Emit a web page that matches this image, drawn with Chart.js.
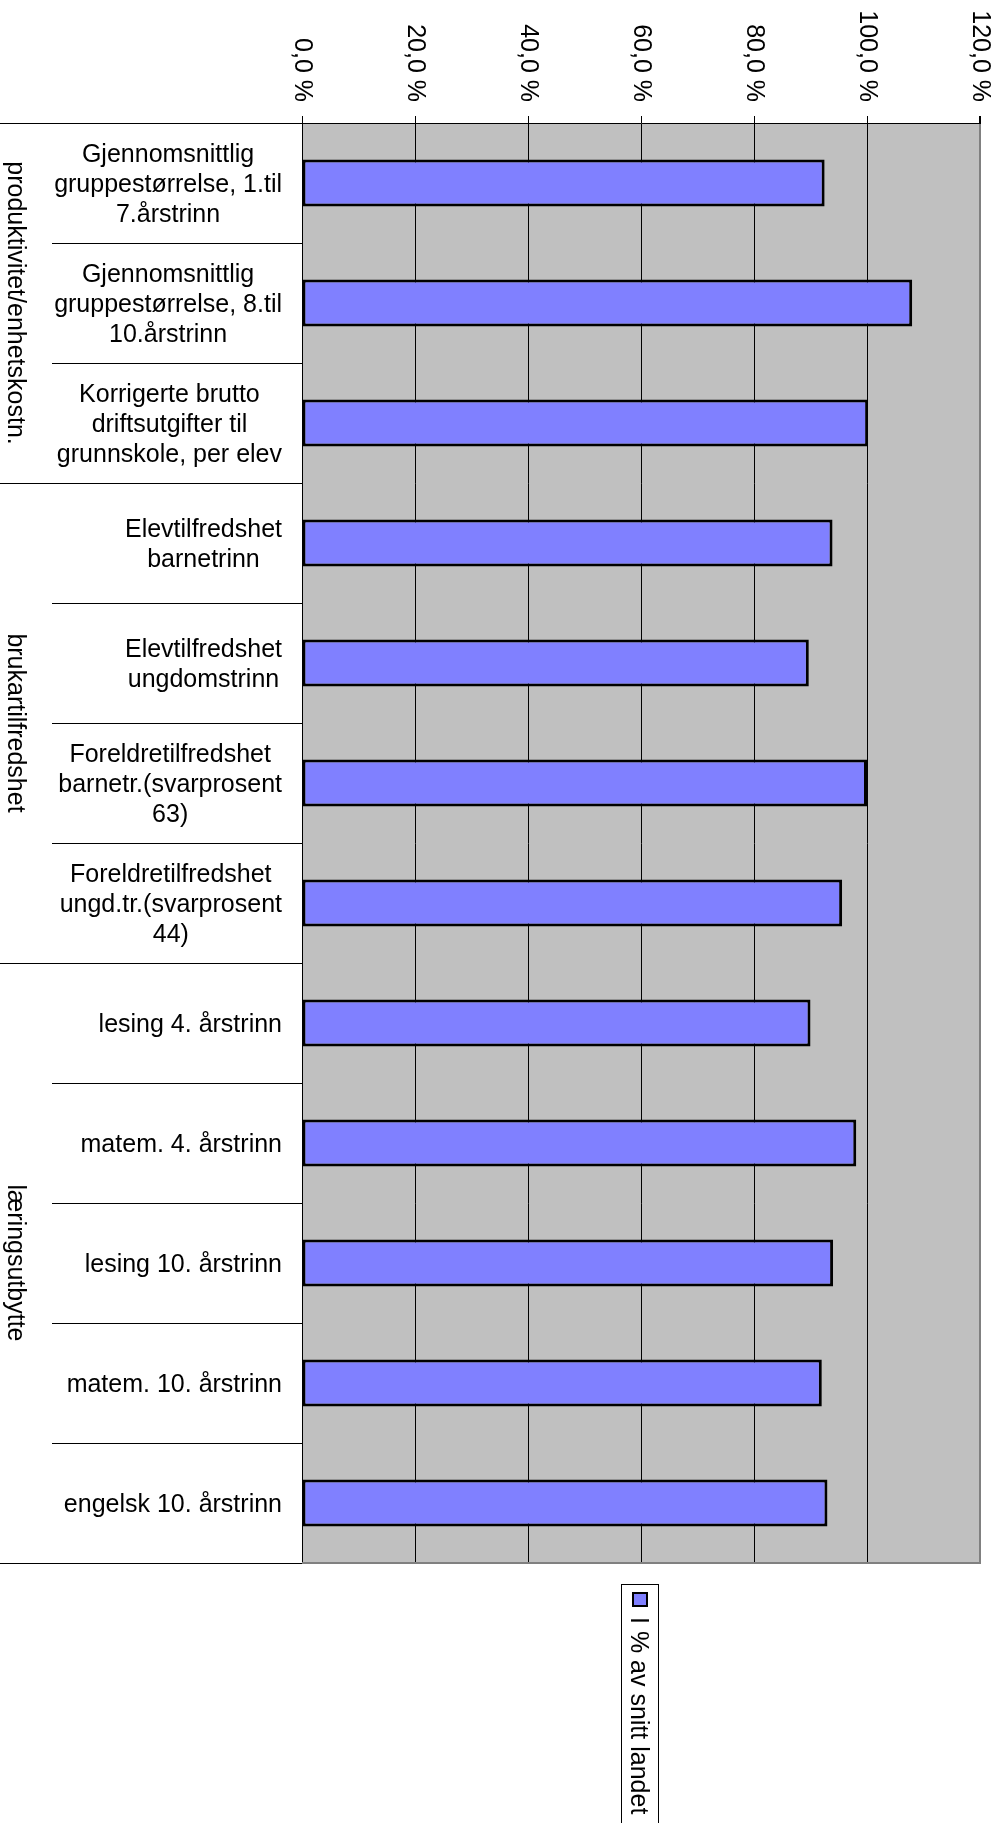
<!DOCTYPE html>
<html>
<head>
<meta charset="utf-8">
<script src="https://cdn.jsdelivr.net/npm/chart.js@4/dist/chart.umd.min.js"></script>
<style>
  html, body { margin: 0; padding: 0; background: #fff; }
  canvas { display: block; }
</style>
</head>
<body>
<canvas id="chart" width="1000" height="1823"></canvas>
<script>
'use strict';
// Data
var categories = [
  ['Gjennomsnittlig', 'gruppestørrelse, 1.til', '7.årstrinn'],
  ['Gjennomsnittlig', 'gruppestørrelse, 8.til', '10.årstrinn'],
  ['Korrigerte brutto', 'driftsutgifter til', 'grunnskole, per elev'],
  ['Elevtilfredshet', 'barnetrinn'],
  ['Elevtilfredshet', 'ungdomstrinn'],
  ['Foreldretilfredshet', 'barnetr.(svarprosent', '63)'],
  ['Foreldretilfredshet', 'ungd.tr.(svarprosent', '44)'],
  ['lesing 4. årstrinn'],
  ['matem. 4. årstrinn'],
  ['lesing 10. årstrinn'],
  ['matem. 10. årstrinn'],
  ['engelsk 10. årstrinn']
];
var groupNames = ['produktivitet/enhetskostn.', 'brukartilfredshet', 'læringsutbytte'];
var groupSizes = [3, 4, 5];
var seriesName = 'I % av snitt landet';
var values = [92.5, 108.0, 100.2, 93.9, 89.7, 100.0, 95.6, 90.0, 98.1, 94.0, 92.0, 93.0];
var valueTicks = [0, 20, 40, 60, 80, 100, 120];
var valueTickLabels = ['0,0 %', '20,0 %', '40,0 %', '60,0 %', '80,0 %', '100,0 %', '120,0 %'];

var FONT = '25px "Liberation Sans", Arial, sans-serif';
var barColor = '#8080FF';

// draws the plot background, rotated texts, category labels and legend
var excelLook = {
  id: 'excelLook',
  beforeDraw: function (chart) {
    var a = chart.chartArea;
    var c = chart.ctx;
    c.save();
    c.fillStyle = '#C0C0C0';
    c.fillRect(a.left, a.top, a.right - a.left, a.bottom - a.top);
    c.restore();
  },
  afterDraw: function (chart) {
    var c = chart.ctx;
    var a = chart.chartArea;
    var xs = chart.scales.x;
    var ys = chart.scales.y;
    c.save();
    c.font = FONT;
    c.fillStyle = '#000';

    // value tick labels, turned clockwise
    for (let i = 0; i < valueTicks.length; i++) {
      let px = xs.getPixelForValue(valueTicks[i]);
      c.save();
      c.translate(px, a.top - 21);
      c.rotate(Math.PI / 2);
      c.textAlign = 'right';
      c.textBaseline = 'middle';
      c.fillText(valueTickLabels[i], 0, 0);
      c.restore();
    }

    // category labels, block right aligned, lines centered
    c.textBaseline = 'middle';
    c.textAlign = 'center';
    for (let i = 0; i < categories.length; i++) {
      let lines = categories[i];
      let w = 0;
      lines.forEach(l => { w = Math.max(w, c.measureText(l).width); });
      let cx = a.left - 20 - w / 2;
      let cy = ys.getPixelForValue(i) + 2;
      for (let j = 0; j < lines.length; j++) {
        c.fillText(lines[j], cx, cy + (j - (lines.length - 1) / 2) * 30);
      }
    }

    // bottom plot border
    c.strokeStyle = '#808080';
    c.lineWidth = 2;
    c.beginPath();
    c.moveTo(a.left, a.bottom);
    c.lineTo(a.right + 1, a.bottom);
    c.stroke();

    // group separators and group names
    var half = (ys.getPixelForValue(1) - ys.getPixelForValue(0)) / 2;
    var start = 0;
    c.strokeStyle = '#000';
    c.lineWidth = 1;
    for (let g = 0; g <= groupSizes.length; g++) {
      let yy;
      if (g === 0) yy = a.top;
      else yy = ys.getPixelForValue(start - 1) + half;
      c.beginPath();
      c.moveTo(0, Math.round(yy) + 0.5);
      c.lineTo(a.left, Math.round(yy) + 0.5);
      c.stroke();
      if (g < groupSizes.length) {
        let top = ys.getPixelForValue(start) - half;
        let bot = ys.getPixelForValue(start + groupSizes[g] - 1) + half;
        c.save();
        c.translate(8, (top + bot) / 2);
        c.rotate(Math.PI / 2);
        c.textAlign = 'center';
        c.textBaseline = 'alphabetic';
        c.fillText(groupNames[g], 0, 0);
        c.restore();
        start += groupSizes[g];
      }
    }

    // legend (turned like the rest of the chart)
    c.strokeStyle = '#000';
    c.lineWidth = 1;
    c.strokeRect(621.5, 1584.5, 37, 300);
    c.fillStyle = barColor;
    c.fillRect(632, 1592, 16, 15);
    c.lineWidth = 2;
    c.strokeRect(633, 1593, 14, 13);
    c.fillStyle = '#000';
    c.save();
    c.translate(631, 1617);
    c.rotate(Math.PI / 2);
    c.textAlign = 'left';
    c.textBaseline = 'alphabetic';
    c.fillText(seriesName, 0, 0);
    c.restore();

    c.restore();
  }
};

var ctx = document.getElementById('chart').getContext('2d');
new Chart(ctx, {
  type: 'bar',
  data: {
    labels: categories,
    datasets: [{
      label: seriesName,
      data: values,
      backgroundColor: barColor,
      borderColor: '#000',
      borderWidth: 3,
      borderSkipped: false,
      barPercentage: 0.39,
      categoryPercentage: 1
    }]
  },
  options: {
    indexAxis: 'y',
    responsive: false,
    animation: false,
    devicePixelRatio: 1,
    layout: { padding: { top: 0, left: 0, right: 20, bottom: 260 } },
    plugins: {
      legend: { display: false },
      tooltip: { enabled: false }
    },
    scales: {
      x: {
        position: 'top',
        min: 0,
        max: 120,
        ticks: { stepSize: 20, display: false },
        grid: {
          color: c => (c.index === 6 ? '#808080' : '#000'),
          lineWidth: c => (c.index === 6 ? 2 : 1),
          tickColor: '#000',
          tickLength: 7
        },
        border: { color: '#000', width: 1 },
        afterFit: s => { s.height = 123; }
      },
      y: {
        ticks: { display: false },
        grid: {
          offset: true,
          drawOnChartArea: false,
          tickLength: 250,
          color: '#000'
        },
        border: { color: '#000', width: 1 },
        afterFit: s => { s.width = 302; }
      }
    }
  },
  plugins: [excelLook]
});
</script>
</body>
</html>
